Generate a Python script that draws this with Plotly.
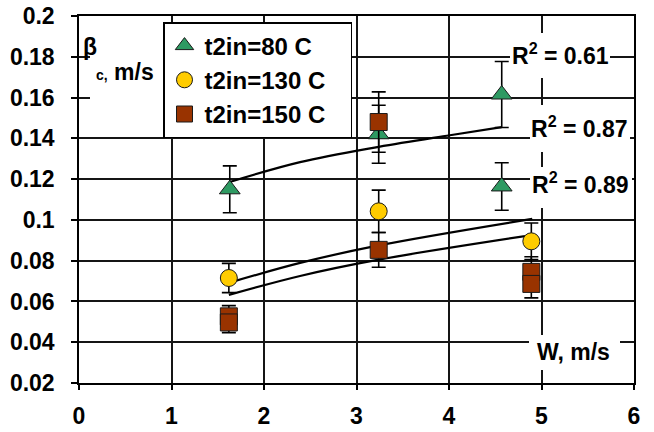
import plotly.graph_objects as go

# ---------------- data ----------------
w_80 = [1.63, 3.24, 4.57, 4.57]
beta_80 = [0.115, 0.142, 0.1615, 0.1164]

w_130 = [1.62, 3.24, 4.89]
beta_130 = [0.0715, 0.1042, 0.0895]

w_150 = [1.62, 1.62, 3.24, 3.24, 4.89, 4.89]
beta_150 = [0.0527, 0.0497, 0.148, 0.0853, 0.0745, 0.0686]

# trend lines
trend_80_w = [1.63, 2.39, 3.24, 4.01, 4.57]
trend_80_b = [0.1186, 0.1283, 0.1358, 0.1415, 0.1455]
trend_130_w = [1.62, 2.39, 3.24, 4.9]
trend_130_b = [0.0691, 0.0789, 0.0875, 0.1005]
trend_150_w = [1.62, 2.39, 3.24, 4.9]
trend_150_b = [0.0632, 0.0725, 0.0805, 0.0926]

series_names = ["t2in=80 C", "t2in=130 C", "t2in=150 C"]
r2_labels = ["R<sup>2</sup> = 0.61", "R<sup>2</sup> = 0.87", "R<sup>2</sup> = 0.89"]
error_percent = 10

x_ticks = [0, 1, 2, 3, 4, 5, 6]

FONT = "Liberation Sans, Arial, sans-serif"
FS = 23

# pixel -> data helpers for layout decorations (plot area 79..634 x 16..383)
def px_x(px):
    return (px - 79) / 92.5

def px_y(py):
    return 0.2 - (py - 16) / 367 * 0.18

fig = go.Figure()

err = dict(type="percent", value=error_percent, color="black", thickness=1.6, width=7)

# trend lines
for tw, tb in [(trend_80_w, trend_80_b), (trend_130_w, trend_130_b), (trend_150_w, trend_150_b)]:
    fig.add_trace(go.Scatter(x=tw, y=tb, mode="lines", line=dict(color="black", width=2.2, shape="spline"),
                             showlegend=False, hoverinfo="skip"))

pad = "\u00a0\u00a0\u00a0"
fig.add_trace(go.Scatter(x=w_80, y=beta_80, mode="markers", name=series_names[0] + pad, legendgroup="a",
                         marker=dict(symbol="triangle-up", size=18, color="#2E9A62",
                                     line=dict(color="#1a1a1a", width=1)),
                         error_y=err))
fig.add_trace(go.Scatter(x=w_130, y=beta_130, mode="markers", name=series_names[1] + pad, legendgroup="b",
                         marker=dict(symbol="circle", size=17, color="#FFCC00",
                                     line=dict(color="#1a1a1a", width=1)),
                         error_y=err))
fig.add_trace(go.Scatter(x=w_150, y=beta_150, mode="markers", name=series_names[2] + pad, legendgroup="c",
                         marker=dict(symbol="square", size=17, color="#993300",
                                     line=dict(color="#1a1a1a", width=1)),
                         error_y=err))

# white boxes that hide grid lines behind labels
boxes = [
    (90, 164, 18, 128),   # y-axis title
    (510, 610, 33, 78),   # R2 0.61
    (530, 630, 105, 152), # R2 0.87
    (530, 632, 167, 208), # R2 0.89
    (529, 620, 335, 370), # W, m/s
]
shapes = []
for x0, x1, y0, y1 in boxes:
    shapes.append(dict(type="rect", xref="x", yref="y", x0=px_x(x0), x1=px_x(x1),
                       y0=px_y(y1), y1=px_y(y0), fillcolor="white", line=dict(width=0),
                       layer="between"))

bold = dict(family=FONT, size=FS, color="black", weight="bold")
annotations = [
    dict(x=px_x(90), y=px_y(47), text="β", showarrow=False, xref="x", yref="y", font=bold),
    dict(x=px_x(125), y=px_y(72), text="<span style='font-size:14px'>c,</span> m/s",
         showarrow=False, xref="x", yref="y", font=bold),
    dict(x=px_x(560), y=px_y(54), text=r2_labels[0], showarrow=False, xref="x", yref="y", font=bold),
    dict(x=px_x(579), y=px_y(127), text=r2_labels[1], showarrow=False, xref="x", yref="y", font=bold),
    dict(x=px_x(580), y=px_y(183), text=r2_labels[2], showarrow=False, xref="x", yref="y", font=bold),
    dict(x=px_x(573), y=px_y(352), text="W, m/s", showarrow=False, xref="x", yref="y", font=bold),
]

axis_common = dict(showgrid=True, gridcolor="#151515", gridwidth=1.5, showline=True, linecolor="black",
                   linewidth=1.5, mirror=True, ticks="outside", tickcolor="black", tickwidth=1.5,
                   zeroline=False, tickfont=bold, automargin=False)

fig.update_layout(
    width=654, height=432,
    margin=dict(l=79, r=20, t=16, b=49),
    plot_bgcolor="white", paper_bgcolor="white",
    font=dict(family=FONT, color="black"),
    xaxis=dict(range=[0, 6], tickvals=x_ticks, ticklen=5, ticklabelstandoff=7, **axis_common),
    yaxis=dict(range=[0.02, 0.2], dtick=0.02, tick0=0.02, ticklen=6, ticklabelstandoff=12, **axis_common),
    legend=dict(x=(163 - 79) / 555, y=(383 - 22) / 367, xanchor="left", yanchor="top",
                bgcolor="white", bordercolor="black", borderwidth=1.5,
                font=dict(family=FONT, size=24, color="black", weight="bold"),
                tracegroupgap=0, itemsizing="trace"),
    shapes=shapes,
    annotations=annotations,
)

fig.write_html("out.html", post_script="document.body.style.margin='0';",
               config={"displayModeBar": False})
